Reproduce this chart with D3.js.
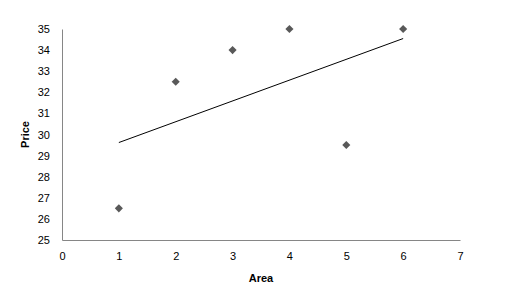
<!DOCTYPE html>
<html>
<head>
<meta charset="utf-8">
<script src="https://cdn.jsdelivr.net/npm/d3@7"></script>
<style>
  body { margin: 0; background: #fff; }
  text { font-family: "Liberation Sans", Arial, sans-serif; }
</style>
</head>
<body>
<svg id="chart"></svg>
<script>
var area = [1, 2, 3, 4, 5, 6];
var price = [26.5, 32.5, 34, 35, 29.5, 35];
var xTicks = [0, 1, 2, 3, 4, 5, 6, 7];
var yTicks = [25, 26, 27, 28, 29, 30, 31, 32, 33, 34, 35];

var margin = {top: 29, right: 54, bottom: 52, left: 62},
    width = 514 - margin.left - margin.right,
    height = 292 - margin.top - margin.bottom;

var svg = d3.select("#chart")
  .attr("width", 514)
  .attr("height", 292);

var g = svg.append("g")
  .attr("transform", "translate(" + margin.left + "," + margin.top + ")");

var x = d3.scaleLinear().domain([0, 7]).range([0, width]);
var y = d3.scaleLinear().domain([25, 35]).range([height, 0]);

// axes
var xAxis = g.append("g")
  .attr("transform", "translate(0," + height + ")")
  .call(d3.axisBottom(x).tickValues(xTicks).tickSize(0).tickPadding(12).tickFormat(d3.format("d")));
var yAxis = g.append("g")
  .call(d3.axisLeft(y).tickValues(yTicks).tickSize(0).tickPadding(12).tickFormat(d3.format("d")));

[xAxis, yAxis].forEach(function(a) {
  a.select(".domain").attr("stroke", "#868686");
  a.selectAll("text").style("font-size", "11px").attr("fill", "#000");
});

// trendline (least squares)
var n = area.length;
var mx = d3.mean(area), my = d3.mean(price);
var sxy = d3.sum(area, function(d, i) { return (d - mx) * (price[i] - my); });
var sxx = d3.sum(area, function(d) { return (d - mx) * (d - mx); });
var slope = sxy / sxx, icpt = my - slope * mx;
var x0 = d3.min(area), x1 = d3.max(area);

g.append("line")
  .attr("x1", x(x0)).attr("y1", y(icpt + slope * x0))
  .attr("x2", x(x1)).attr("y2", y(icpt + slope * x1))
  .attr("stroke", "#000")
  .attr("stroke-width", 1);

// points
g.append("g")
  .selectAll("path")
  .data(area)
  .enter()
  .append("path")
    .attr("d", d3.symbol().type(d3.symbolDiamond2).size(42))
    .attr("transform", function(d, i) { return "translate(" + x(d) + "," + y(price[i]) + ")"; })
    .attr("fill", "#595959");

// axis titles
svg.append("text")
  .attr("x", margin.left + width / 2)
  .attr("y", 282)
  .attr("text-anchor", "middle")
  .style("font-size", "11px")
  .style("font-weight", "bold")
  .text("Area");

svg.append("text")
  .attr("transform", "translate(29," + (margin.top + height / 2) + ") rotate(-90)")
  .attr("text-anchor", "middle")
  .style("font-size", "11px")
  .style("font-weight", "bold")
  .text("Price");
</script>
</body>
</html>
